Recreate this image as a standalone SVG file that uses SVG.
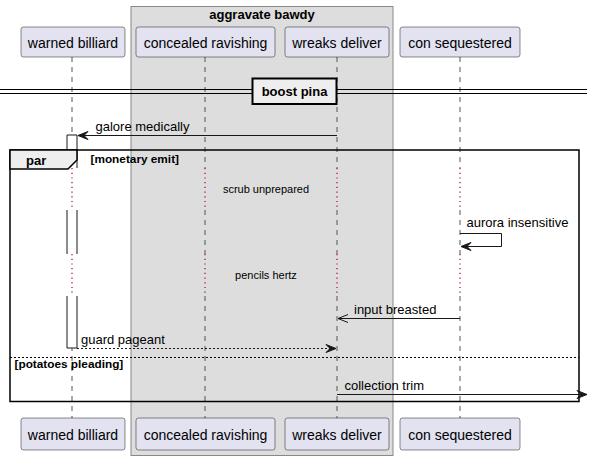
<svg xmlns="http://www.w3.org/2000/svg" width="594" height="460" viewBox="0 0 594 460">
<style>
.part{fill:#E2E2F0;stroke:#181818;stroke-width:0.5}
.pt{font-family:"Liberation Sans",Arial,sans-serif;font-size:14px;fill:#000;text-anchor:middle}
.msg{font-family:"Liberation Sans",Arial,sans-serif;font-size:13px;fill:#000}
.bold{font-family:"Liberation Sans",Arial,sans-serif;font-weight:bold;fill:#000}
.life{stroke:#555;stroke-width:1;stroke-dasharray:5,5}
.delay{stroke:#A80036;stroke-width:1.2;stroke-dasharray:1.2,3.5}
.line{stroke:#181818;stroke-width:1;fill:none}
.head{fill:#181818;stroke:#181818;stroke-width:1}
.dt{font-family:"Liberation Sans",Arial,sans-serif;font-size:11px;fill:#000;text-anchor:middle}
</style>
<rect width="594" height="460" fill="#FFFFFF"/>
<g id="group-aggravate-bawdy">
<rect x="131" y="6.5" width="262" height="449" fill="#DDDDDD" stroke="#888888" stroke-width="1"/>
<text class="bold" x="262" y="18.5" font-size="13" text-anchor="middle">aggravate bawdy</text>
</g>
<g id="lifelines">
<line class="life" x1="72" y1="57" x2="72" y2="168"/>
<line class="life" x1="72" y1="210" x2="72" y2="254"/>
<line class="life" x1="72" y1="296" x2="72" y2="418"/>
<line class="delay" x1="72" y1="168" x2="72" y2="210"/>
<line class="delay" x1="72" y1="254" x2="72" y2="296"/>
<line class="life" x1="205" y1="57" x2="205" y2="168"/>
<line class="life" x1="205" y1="210" x2="205" y2="254"/>
<line class="life" x1="205" y1="296" x2="205" y2="418"/>
<line class="delay" x1="205" y1="168" x2="205" y2="210"/>
<line class="delay" x1="205" y1="254" x2="205" y2="296"/>
<line class="life" x1="337" y1="57" x2="337" y2="168"/>
<line class="life" x1="337" y1="210" x2="337" y2="254"/>
<line class="life" x1="337" y1="296" x2="337" y2="418"/>
<line class="delay" x1="337" y1="168" x2="337" y2="210"/>
<line class="delay" x1="337" y1="254" x2="337" y2="296"/>
<line class="life" x1="460" y1="57" x2="460" y2="168"/>
<line class="life" x1="460" y1="210" x2="460" y2="254"/>
<line class="life" x1="460" y1="296" x2="460" y2="418"/>
<line class="delay" x1="460" y1="168" x2="460" y2="210"/>
<line class="delay" x1="460" y1="254" x2="460" y2="296"/>
</g>
<g id="warned-billiard">
<rect class="part" x="21" y="27" width="104" height="30" rx="2.5"/>
<text class="pt" x="73" y="47.5">warned billiard</text>
<rect class="part" x="21" y="418" width="104" height="32" rx="2.5"/>
<text class="pt" x="73" y="439.5">warned billiard</text>
</g>
<g id="concealed-ravishing">
<rect class="part" x="136" y="27" width="139" height="30" rx="2.5"/>
<text class="pt" x="205.5" y="47.5">concealed ravishing</text>
<rect class="part" x="136" y="418" width="139" height="32" rx="2.5"/>
<text class="pt" x="205.5" y="439.5">concealed ravishing</text>
</g>
<g id="wreaks-deliver">
<rect class="part" x="285" y="27" width="104" height="30" rx="2.5"/>
<text class="pt" x="337" y="47.5">wreaks deliver</text>
<rect class="part" x="285" y="418" width="104" height="32" rx="2.5"/>
<text class="pt" x="337" y="439.5">wreaks deliver</text>
</g>
<g id="con-sequestered">
<rect class="part" x="400" y="27" width="120" height="30" rx="2.5"/>
<text class="pt" x="460" y="47.5">con sequestered</text>
<rect class="part" x="400" y="418" width="120" height="32" rx="2.5"/>
<text class="pt" x="460" y="439.5">con sequestered</text>
</g>
<g id="divider-boost-pina">
<line x1="0" y1="89.5" x2="587" y2="89.5" stroke="#000" stroke-width="1"/>
<line x1="0" y1="93.5" x2="587" y2="93.5" stroke="#000" stroke-width="1"/>
<rect x="252.5" y="78.5" width="84" height="25.5" fill="#EEEEEE" stroke="#000" stroke-width="2"/>
<text class="bold" x="294.5" y="96" font-size="13" text-anchor="middle">boost pina</text>
</g>
<g id="activation-warned-billiard">
<rect x="67" y="135" width="10" height="33" fill="#FFFFFF" stroke="none"/>
<path d="M67,168 L67,135 L77,135 L77,168" class="line"/>
<rect x="67" y="210" width="10" height="44" fill="#FFFFFF" stroke="none"/>
<path d="M67,210 L67,254 M77,210 L77,254" class="line"/>
<rect x="67" y="296" width="10" height="52" fill="#FFFFFF" stroke="none"/>
<path d="M67,296 L67,348 L77,348 L77,296" class="line"/>
</g>
<g id="par-monetary-emit">
<rect x="10" y="150" width="569" height="251.5" fill="none" stroke="#000" stroke-width="1.5"/>
<path d="M10,150 L77,150 L77,160 L68,169 L10,169 Z" fill="#EEEEEE" stroke="#000" stroke-width="1.5"/>
<text class="bold" x="26" y="164.5" font-size="13">par</text>
<text class="bold" x="90.5" y="163" font-size="11.8">[monetary emit]</text>
<line x1="10" y1="357.5" x2="579" y2="357.5" stroke="#000" stroke-width="1" stroke-dasharray="2,2"/>
<text class="bold" x="14.5" y="367.5" font-size="11.8">[potatoes pleading]</text>
</g>
<g id="delays">
<text class="dt" x="266" y="193">scrub unprepared</text>
<text class="dt" x="266" y="279">pencils hertz</text>
</g>
<g id="connectors">
<line class="line" x1="337" y1="135.5" x2="78" y2="135.5"/>
<polygon class="head" points="88,131.5 78,135.5 88,139.5 84,135.5"/>
<text class="msg" x="95.5" y="130.5">galore medically</text>
<path class="line" d="M460,233.5 L501.5,233.5 L501.5,246.5 L461,246.5"/>
<polygon class="head" points="471,242.5 461,246.5 471,250.5 467,246.5"/>
<text class="msg" x="466.5" y="227">aurora insensitive</text>
<line class="line" x1="460" y1="318.5" x2="338" y2="318.5"/>
<polyline class="line" points="348,314.5 338,318.5 348,322.5"/>
<text class="msg" x="354" y="313.5">input breasted</text>
<line class="line" x1="77" y1="348.5" x2="336" y2="348.5" stroke-dasharray="2,2"/>
<polygon class="head" points="326,344.5 336,348.5 326,352.5 330,348.5"/>
<text class="msg" x="81" y="344">guard pageant</text>
<line class="line" x1="337" y1="394.5" x2="587" y2="394.5"/>
<polygon class="head" points="577,390.5 587,394.5 577,398.5 581,394.5"/>
<text class="msg" x="344.5" y="389.5">collection trim</text>
</g>
</svg>
